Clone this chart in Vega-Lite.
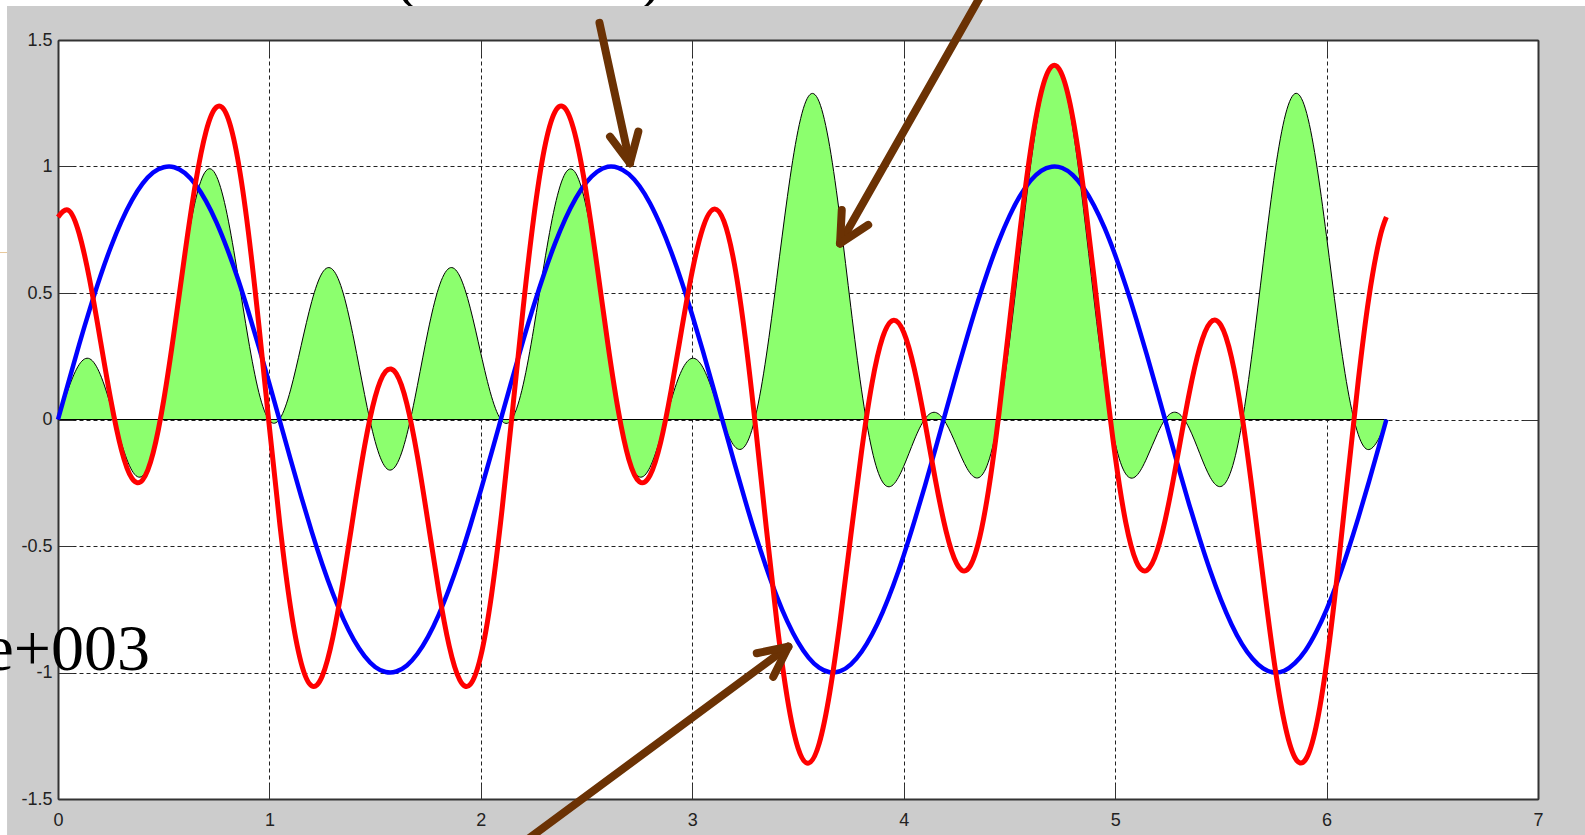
{
  "$schema": "https://vega.github.io/schema/vega-lite/v6.json",
  "autosize": {"type": "none"},
  "width": 1480,
  "height": 759,
  "padding": {"left": 58, "top": 40, "right": 47, "bottom": 36},
  "background": "#cccccc",
  "config": {
    "view": {"fill": "white", "stroke": null},
    "axis": {
      "labelFont": "Liberation Sans",
      "labelFontSize": 18,
      "labelColor": "#222222",
      "tickColor": "#333333",
      "tickWidth": 1,
      "domainColor": "#333333",
      "domainWidth": 2,
      "gridColor": "#222222",
      "gridDash": [4, 3],
      "gridWidth": 1,
      "gridOpacity": 1,
      "title": null
    }
  },
  "datasets": {
    "waves": [
      {"x": 0.00, "blue": 0, "red": 0.8, "green": 0},
      {"x": 0.05, "blue": 0.149, "red": 0.827, "green": 0.124},
      {"x": 0.10, "blue": 0.296, "red": 0.735, "green": 0.217},
      {"x": 0.15, "blue": 0.435, "red": 0.551, "green": 0.240},
      {"x": 0.20, "blue": 0.565, "red": 0.315, "green": 0.178},
      {"x": 0.25, "blue": 0.682, "red": 0.076, "green": 0.052},
      {"x": 0.30, "blue": 0.783, "red": -0.120, "green": -0.094},
      {"x": 0.35, "blue": 0.867, "red": -0.233, "green": -0.202},
      {"x": 0.40, "blue": 0.932, "red": -0.239, "green": -0.223},
      {"x": 0.45, "blue": 0.976, "red": -0.132, "green": -0.129},
      {"x": 0.50, "blue": 0.997, "red": 0.076, "green": 0.075},
      {"x": 0.55, "blue": 0.997, "red": 0.352, "green": 0.351},
      {"x": 0.60, "blue": 0.974, "red": 0.654, "green": 0.637},
      {"x": 0.65, "blue": 0.929, "red": 0.932, "green": 0.866},
      {"x": 0.70, "blue": 0.863, "red": 1.138, "green": 0.983},
      {"x": 0.75, "blue": 0.778, "red": 1.235, "green": 0.961},
      {"x": 0.80, "blue": 0.675, "red": 1.200, "green": 0.810},
      {"x": 0.85, "blue": 0.558, "red": 1.030, "green": 0.574},
      {"x": 0.90, "blue": 0.427, "red": 0.743, "green": 0.318},
      {"x": 0.95, "blue": 0.287, "red": 0.373, "green": 0.107},
      {"x": 1.00, "blue": 0.141, "red": -0.032, "green": -0.004},
      {"x": 1.05, "blue": -0.008, "red": -0.420, "green": 0.004},
      {"x": 1.10, "blue": -0.158, "red": -0.744, "green": 0.117},
      {"x": 1.15, "blue": -0.304, "red": -0.962, "green": 0.292},
      {"x": 1.20, "blue": -0.443, "red": -1.053, "green": 0.466},
      {"x": 1.25, "blue": -0.572, "red": -1.014, "green": 0.580},
      {"x": 1.30, "blue": -0.688, "red": -0.861, "green": 0.592},
      {"x": 1.35, "blue": -0.789, "red": -0.629, "green": 0.496},
      {"x": 1.40, "blue": -0.872, "red": -0.361, "green": 0.314},
      {"x": 1.45, "blue": -0.935, "red": -0.106, "green": 0.099},
      {"x": 1.50, "blue": -0.978, "red": 0.089, "green": -0.087},
      {"x": 1.55, "blue": -0.998, "red": 0.190, "green": -0.190},
      {"x": 1.60, "blue": -0.996, "red": 0.181, "green": -0.180},
      {"x": 1.65, "blue": -0.972, "red": 0.062, "green": -0.060},
      {"x": 1.70, "blue": -0.926, "red": -0.146, "green": 0.135},
      {"x": 1.75, "blue": -0.859, "red": -0.406, "green": 0.349},
      {"x": 1.80, "blue": -0.773, "red": -0.672, "green": 0.519},
      {"x": 1.85, "blue": -0.669, "red": -0.894, "green": 0.598},
      {"x": 1.90, "blue": -0.551, "red": -1.029, "green": 0.567},
      {"x": 1.95, "blue": -0.420, "red": -1.047, "green": 0.440},
      {"x": 2.00, "blue": -0.279, "red": -0.934, "green": 0.261},
      {"x": 2.05, "blue": -0.133, "red": -0.696, "green": 0.092},
      {"x": 2.10, "blue": 0.017, "red": -0.358, "green": -0.006},
      {"x": 2.15, "blue": 0.166, "red": 0.037, "green": 0.006},
      {"x": 2.20, "blue": 0.312, "red": 0.440, "green": 0.137},
      {"x": 2.25, "blue": 0.450, "red": 0.798, "green": 0.359},
      {"x": 2.30, "blue": 0.578, "red": 1.068, "green": 0.618},
      {"x": 2.35, "blue": 0.694, "red": 1.215, "green": 0.843},
      {"x": 2.40, "blue": 0.794, "red": 1.228, "green": 0.974},
      {"x": 2.45, "blue": 0.876, "red": 1.111, "green": 0.972},
      {"x": 2.50, "blue": 0.938, "red": 0.889, "green": 0.834},
      {"x": 2.55, "blue": 0.979, "red": 0.604, "green": 0.591},
      {"x": 2.60, "blue": 0.999, "red": 0.303, "green": 0.302},
      {"x": 2.65, "blue": 0.995, "red": 0.035, "green": 0.035},
      {"x": 2.70, "blue": 0.970, "red": -0.158, "green": -0.153},
      {"x": 2.75, "blue": 0.923, "red": -0.246, "green": -0.227},
      {"x": 2.80, "blue": 0.855, "red": -0.221, "green": -0.189},
      {"x": 2.85, "blue": 0.767, "red": -0.092, "green": -0.070},
      {"x": 2.90, "blue": 0.663, "red": 0.115, "green": 0.076},
      {"x": 2.95, "blue": 0.544, "red": 0.357, "green": 0.194},
      {"x": 3.00, "blue": 0.412, "red": 0.587, "green": 0.242},
      {"x": 3.05, "blue": 0.271, "red": 0.757, "green": 0.206},
      {"x": 3.10, "blue": 0.124, "red": 0.831, "green": 0.103},
      {"x": 3.15, "blue": -0.025, "red": 0.783, "green": -0.020},
      {"x": 3.20, "blue": -0.174, "red": 0.610, "green": -0.106},
      {"x": 3.25, "blue": -0.320, "red": 0.326, "green": -0.104},
      {"x": 3.30, "blue": -0.458, "red": -0.035, "green": 0.016},
      {"x": 3.35, "blue": -0.585, "red": -0.428, "green": 0.251},
      {"x": 3.40, "blue": -0.700, "red": -0.801, "green": 0.561},
      {"x": 3.45, "blue": -0.799, "red": -1.104, "green": 0.882},
      {"x": 3.50, "blue": -0.880, "red": -1.298, "green": 1.142},
      {"x": 3.55, "blue": -0.941, "red": -1.358, "green": 1.278},
      {"x": 3.60, "blue": -0.981, "red": -1.281, "green": 1.256},
      {"x": 3.65, "blue": -0.999, "red": -1.080, "green": 1.079},
      {"x": 3.70, "blue": -0.995, "red": -0.791, "green": 0.787},
      {"x": 3.75, "blue": -0.968, "red": -0.457, "green": 0.443},
      {"x": 3.80, "blue": -0.919, "red": -0.130, "green": 0.120},
      {"x": 3.85, "blue": -0.850, "red": 0.143, "green": -0.121},
      {"x": 3.90, "blue": -0.762, "red": 0.324, "green": -0.247},
      {"x": 3.95, "blue": -0.657, "red": 0.392, "green": -0.258},
      {"x": 4.00, "blue": -0.537, "red": 0.345, "green": -0.185},
      {"x": 4.05, "blue": -0.404, "red": 0.200, "green": -0.081},
      {"x": 4.10, "blue": -0.263, "red": -0.009, "green": 0.002},
      {"x": 4.15, "blue": -0.116, "red": -0.239, "green": 0.028},
      {"x": 4.20, "blue": 0.034, "red": -0.440, "green": -0.015},
      {"x": 4.25, "blue": 0.183, "red": -0.569, "green": -0.104},
      {"x": 4.30, "blue": 0.327, "red": -0.594, "green": -0.194},
      {"x": 4.35, "blue": 0.465, "red": -0.498, "green": -0.231},
      {"x": 4.40, "blue": 0.592, "red": -0.285, "green": -0.169},
      {"x": 4.45, "blue": 0.706, "red": 0.020, "green": 0.014},
      {"x": 4.50, "blue": 0.804, "red": 0.380, "green": 0.305},
      {"x": 4.55, "blue": 0.884, "red": 0.745, "green": 0.658},
      {"x": 4.60, "blue": 0.944, "red": 1.064, "green": 1.004},
      {"x": 4.65, "blue": 0.983, "red": 1.292, "green": 1.269},
      {"x": 4.70, "blue": 0.999, "red": 1.396, "green": 1.395},
      {"x": 4.75, "blue": 0.994, "red": 1.360, "green": 1.352},
      {"x": 4.80, "blue": 0.966, "red": 1.191, "green": 1.150},
      {"x": 4.85, "blue": 0.916, "red": 0.912, "green": 0.835},
      {"x": 4.90, "blue": 0.846, "red": 0.563, "green": 0.476},
      {"x": 4.95, "blue": 0.757, "red": 0.195, "green": 0.147},
      {"x": 5.00, "blue": 0.650, "red": -0.143, "green": -0.093},
      {"x": 5.05, "blue": 0.529, "red": -0.406, "green": -0.215},
      {"x": 5.10, "blue": 0.397, "red": -0.561, "green": -0.223},
      {"x": 5.15, "blue": 0.255, "red": -0.596, "green": -0.152},
      {"x": 5.20, "blue": 0.108, "red": -0.516, "green": -0.056},
      {"x": 5.25, "blue": -0.042, "red": -0.345, "green": 0.015},
      {"x": 5.30, "blue": -0.191, "red": -0.124, "green": 0.024},
      {"x": 5.35, "blue": -0.335, "red": 0.102, "green": -0.034},
      {"x": 5.40, "blue": -0.472, "red": 0.284, "green": -0.134},
      {"x": 5.45, "blue": -0.599, "red": 0.383, "green": -0.229},
      {"x": 5.50, "blue": -0.712, "red": 0.373, "green": -0.265},
      {"x": 5.55, "blue": -0.809, "red": 0.246, "green": -0.199},
      {"x": 5.60, "blue": -0.888, "red": 0.015, "green": -0.013},
      {"x": 5.65, "blue": -0.946, "red": -0.291, "green": 0.276},
      {"x": 5.70, "blue": -0.984, "red": -0.628, "green": 0.618},
      {"x": 5.75, "blue": -1.000, "red": -0.945, "green": 0.945},
      {"x": 5.80, "blue": -0.993, "red": -1.195, "green": 1.186},
      {"x": 5.85, "blue": -0.963, "red": -1.336, "green": 1.288},
      {"x": 5.90, "blue": -0.913, "red": -1.345, "green": 1.228},
      {"x": 5.95, "blue": -0.841, "red": -1.216, "green": 1.023},
      {"x": 6.00, "blue": -0.751, "red": -0.963, "green": 0.723},
      {"x": 6.05, "blue": -0.644, "red": -0.619, "green": 0.398},
      {"x": 6.10, "blue": -0.522, "red": -0.229, "green": 0.120},
      {"x": 6.15, "blue": -0.389, "red": 0.154, "green": -0.060},
      {"x": 6.20, "blue": -0.247, "red": 0.481, "green": -0.119},
      {"x": 6.25, "blue": -0.099, "red": 0.712, "green": -0.071},
      {"x": 6.283, "blue": 0, "red": 0.8, "green": 0}
    ]
  },
  "layer": [
    {
      "data": {"values": [{}]},
      "mark": {"type": "rect", "color": "white"},
      "encoding": {
        "x": {"datum": -0.4, "type": "quantitative", "scale": {"domain": [0, 7], "nice": false, "zero": false}, "axis": null},
        "x2": {"datum": 7.4},
        "y": {"datum": 1.634, "type": "quantitative", "scale": {"domain": [-1.5, 1.5], "nice": false, "zero": false}, "axis": null},
        "y2": {"datum": 1.9}
      }
    },
    {
      "data": {"values": [{}]},
      "mark": {"type": "rect", "color": "white"},
      "encoding": {
        "x": {"datum": -0.4, "type": "quantitative", "scale": {"domain": [0, 7], "nice": false, "zero": false}, "axis": null},
        "x2": {"datum": -0.241},
        "y": {"datum": -1.9, "type": "quantitative", "scale": {"domain": [-1.5, 1.5], "nice": false, "zero": false}, "axis": null},
        "y2": {"datum": 1.9}
      }
    },
    {
      "data": {"values": [{}]},
      "mark": {"type": "text", "text": "(", "font": "Liberation Serif", "fontSize": 66, "align": "left", "baseline": "alphabetic", "color": "black"},
      "encoding": {
        "x": {"datum": 1.594, "type": "quantitative", "scale": {"domain": [0, 7], "nice": false, "zero": false}, "axis": null},
        "y": {"datum": 1.674, "type": "quantitative", "scale": {"domain": [-1.5, 1.5], "nice": false, "zero": false}, "axis": null}
      }
    },
    {
      "data": {"values": [{}]},
      "mark": {"type": "text", "text": ")", "font": "Liberation Serif", "fontSize": 66, "align": "left", "baseline": "alphabetic", "color": "black"},
      "encoding": {
        "x": {"datum": 2.753, "type": "quantitative", "scale": {"domain": [0, 7], "nice": false, "zero": false}, "axis": null},
        "y": {"datum": 1.674, "type": "quantitative", "scale": {"domain": [-1.5, 1.5], "nice": false, "zero": false}, "axis": null}
      }
    },
    {
      "data": {"values": [{}]},
      "mark": {"type": "rect", "color": "#cccccc"},
      "encoding": {
        "x": {"datum": -0.241, "type": "quantitative", "scale": {"domain": [0, 7], "nice": false, "zero": false}, "axis": null},
        "x2": {"datum": 7.4},
        "y": {"datum": 1.634, "type": "quantitative", "scale": {"domain": [-1.5, 1.5], "nice": false, "zero": false}, "axis": null},
        "y2": {"datum": 1.585}
      }
    },
    {
      "data": {"name": "waves"},
      "mark": {"type": "area", "interpolate": "natural", "color": "#8cff6e", "opacity": 1, "line": {"color": "black", "strokeWidth": 1, "interpolate": "natural"}},
      "encoding": {
        "x": {
          "field": "x", "type": "quantitative",
          "scale": {"domain": [0, 7], "nice": false, "zero": false},
          "axis": {"orient": "bottom", "values": [0, 1, 2, 3, 4, 5, 6, 7], "labelExpr": "datum.value + ''", "tickSize": -15, "labelPadding": 27, "labelBaseline": "top", "grid": true, "labelFlush": false}
        },
        "y": {
          "field": "green", "type": "quantitative",
          "scale": {"domain": [-1.5, 1.5], "nice": false, "zero": false},
          "axis": {"orient": "left", "values": [-1.5, -1, -0.5, 0, 0.5, 1, 1.5], "labelExpr": "datum.value + ''", "tickSize": -15, "labelPadding": 21, "grid": true, "labelFlush": false}
        },
        "y2": {"datum": 0}
      }
    },
    {
      "data": {"values": [{}]},
      "mark": {"type": "rule", "color": "black", "strokeWidth": 1},
      "encoding": {
        "x": {"datum": 0, "type": "quantitative", "scale": {"domain": [0, 7], "nice": false, "zero": false}, "axis": null},
        "x2": {"datum": 6.283},
        "y": {"datum": 0, "type": "quantitative", "scale": {"domain": [-1.5, 1.5], "nice": false, "zero": false}, "axis": null}
      }
    },
    {
      "data": {"name": "waves"},
      "mark": {"type": "line", "interpolate": "natural", "color": "#0000ff", "strokeWidth": 4.5},
      "encoding": {
        "x": {
          "field": "x", "type": "quantitative",
          "scale": {"domain": [0, 7], "nice": false, "zero": false},
          "axis": {"orient": "top", "values": [0, 1, 2, 3, 4, 5, 6, 7], "labels": false, "tickSize": -15, "grid": false}
        },
        "y": {
          "field": "blue", "type": "quantitative",
          "scale": {"domain": [-1.5, 1.5], "nice": false, "zero": false},
          "axis": {"orient": "right", "values": [-1.5, -1, -0.5, 0, 0.5, 1, 1.5], "labels": false, "tickSize": -15, "grid": false}
        }
      }
    },
    {
      "data": {"name": "waves"},
      "mark": {"type": "line", "interpolate": "natural", "color": "#ff0000", "strokeWidth": 5},
      "encoding": {
        "x": {"field": "x", "type": "quantitative", "scale": {"domain": [0, 7], "nice": false, "zero": false}, "axis": null},
        "y": {"field": "red", "type": "quantitative", "scale": {"domain": [-1.5, 1.5], "nice": false, "zero": false}, "axis": null}
      }
    },
    {
      "data": {"values": [{}]},
      "mark": {"type": "rule", "color": "#6b3204", "strokeWidth": 8, "strokeCap": "round"},
      "encoding": {
        "x": {"datum": 2.561, "type": "quantitative", "scale": {"domain": [0, 7], "nice": false, "zero": false}, "axis": null},
        "y": {"datum": 1.568, "type": "quantitative", "scale": {"domain": [-1.5, 1.5], "nice": false, "zero": false}, "axis": null},
        "x2": {"datum": 2.705},
        "y2": {"datum": 1.013}
      }
    },
    {
      "data": {"values": [{}]},
      "mark": {"type": "rule", "color": "#6b3204", "strokeWidth": 8, "strokeCap": "round"},
      "encoding": {
        "x": {"datum": 2.705, "type": "quantitative", "scale": {"domain": [0, 7], "nice": false, "zero": false}, "axis": null},
        "y": {"datum": 1.013, "type": "quantitative", "scale": {"domain": [-1.5, 1.5], "nice": false, "zero": false}, "axis": null},
        "x2": {"datum": 2.611},
        "y2": {"datum": 1.118}
      }
    },
    {
      "data": {"values": [{}]},
      "mark": {"type": "rule", "color": "#6b3204", "strokeWidth": 8, "strokeCap": "round"},
      "encoding": {
        "x": {"datum": 2.705, "type": "quantitative", "scale": {"domain": [0, 7], "nice": false, "zero": false}, "axis": null},
        "y": {"datum": 1.013, "type": "quantitative", "scale": {"domain": [-1.5, 1.5], "nice": false, "zero": false}, "axis": null},
        "x2": {"datum": 2.745},
        "y2": {"datum": 1.138}
      }
    },
    {
      "data": {"values": [{}]},
      "mark": {"type": "rule", "color": "#6b3204", "strokeWidth": 8, "strokeCap": "round"},
      "encoding": {
        "x": {"datum": 4.380, "type": "quantitative", "scale": {"domain": [0, 7], "nice": false, "zero": false}, "axis": null},
        "y": {"datum": 1.698, "type": "quantitative", "scale": {"domain": [-1.5, 1.5], "nice": false, "zero": false}, "axis": null},
        "x2": {"datum": 3.699},
        "y2": {"datum": 0.696}
      }
    },
    {
      "data": {"values": [{}]},
      "mark": {"type": "rule", "color": "#6b3204", "strokeWidth": 8, "strokeCap": "round"},
      "encoding": {
        "x": {"datum": 3.699, "type": "quantitative", "scale": {"domain": [0, 7], "nice": false, "zero": false}, "axis": null},
        "y": {"datum": 0.696, "type": "quantitative", "scale": {"domain": [-1.5, 1.5], "nice": false, "zero": false}, "axis": null},
        "x2": {"datum": 3.707},
        "y2": {"datum": 0.828}
      }
    },
    {
      "data": {"values": [{}]},
      "mark": {"type": "rule", "color": "#6b3204", "strokeWidth": 8, "strokeCap": "round"},
      "encoding": {
        "x": {"datum": 3.699, "type": "quantitative", "scale": {"domain": [0, 7], "nice": false, "zero": false}, "axis": null},
        "y": {"datum": 0.696, "type": "quantitative", "scale": {"domain": [-1.5, 1.5], "nice": false, "zero": false}, "axis": null},
        "x2": {"datum": 3.832},
        "y2": {"datum": 0.769}
      }
    },
    {
      "data": {"values": [{}]},
      "mark": {"type": "rule", "color": "#6b3204", "strokeWidth": 8, "strokeCap": "round"},
      "encoding": {
        "x": {"datum": 2.152, "type": "quantitative", "scale": {"domain": [0, 7], "nice": false, "zero": false}, "axis": null},
        "y": {"datum": -1.702, "type": "quantitative", "scale": {"domain": [-1.5, 1.5], "nice": false, "zero": false}, "axis": null},
        "x2": {"datum": 3.454},
        "y2": {"datum": -0.898}
      }
    },
    {
      "data": {"values": [{}]},
      "mark": {"type": "rule", "color": "#6b3204", "strokeWidth": 8, "strokeCap": "round"},
      "encoding": {
        "x": {"datum": 3.454, "type": "quantitative", "scale": {"domain": [0, 7], "nice": false, "zero": false}, "axis": null},
        "y": {"datum": -0.898, "type": "quantitative", "scale": {"domain": [-1.5, 1.5], "nice": false, "zero": false}, "axis": null},
        "x2": {"datum": 3.305},
        "y2": {"datum": -0.924}
      }
    },
    {
      "data": {"values": [{}]},
      "mark": {"type": "rule", "color": "#6b3204", "strokeWidth": 8, "strokeCap": "round"},
      "encoding": {
        "x": {"datum": 3.454, "type": "quantitative", "scale": {"domain": [0, 7], "nice": false, "zero": false}, "axis": null},
        "y": {"datum": -0.898, "type": "quantitative", "scale": {"domain": [-1.5, 1.5], "nice": false, "zero": false}, "axis": null},
        "x2": {"datum": 3.383},
        "y2": {"datum": -1.017}
      }
    },
    {
      "data": {"values": [{}]},
      "mark": {"type": "text", "text": "e+003", "font": "Liberation Serif", "fontSize": 66, "align": "right", "baseline": "alphabetic", "color": "black"},
      "encoding": {
        "x": {"datum": 0.435, "type": "quantitative", "scale": {"domain": [0, 7], "nice": false, "zero": false}, "axis": null},
        "y": {"datum": -0.99, "type": "quantitative", "scale": {"domain": [-1.5, 1.5], "nice": false, "zero": false}, "axis": null}
      }
    },
    {
      "data": {"values": [{}]},
      "mark": {"type": "rule", "color": "#e8c99b", "strokeWidth": 1},
      "encoding": {
        "x": {"datum": -0.28, "type": "quantitative", "scale": {"domain": [0, 7], "nice": false, "zero": false}, "axis": null},
        "x2": {"datum": -0.241},
        "y": {"datum": 0.66, "type": "quantitative", "scale": {"domain": [-1.5, 1.5], "nice": false, "zero": false}, "axis": null}
      }
    }
  ]
}
